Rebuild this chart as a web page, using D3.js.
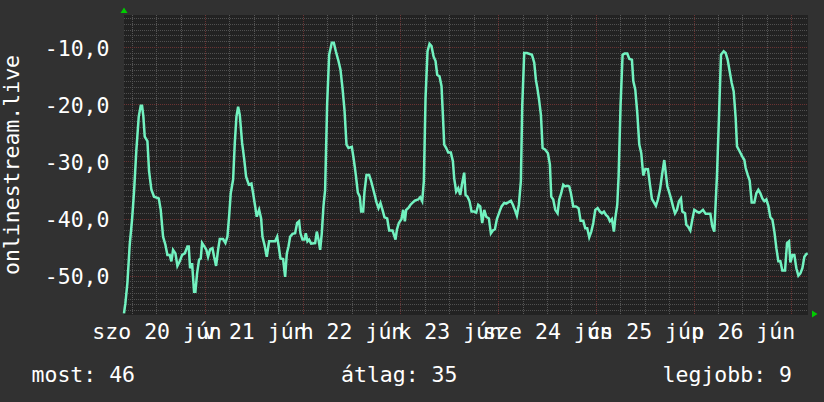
<!DOCTYPE html>
<html>
<head>
<meta charset="utf-8">
<script src="https://cdn.jsdelivr.net/npm/d3@7"></script>
<style>
  html, body { margin: 0; padding: 0; background: #313131; }
  svg { display: block; }
  text { font-family: "DejaVu Sans Mono", monospace; fill: #ffffff; }
</style>
</head>
<body>
<svg id="chart" width="824" height="402"></svg>
<script>
// hours after 2020-06-20 00:00 and the (negative) rank
const hours = [
  4.0, 4.34, 4.83, 5.40, 5.98, 6.47, 7.04, 7.62, 8.11, 8.44, 8.76, 9.09, 9.75, 10.16, 10.73, 11.38,
  12.53, 13.02, 13.60, 14.17, 14.66, 15.23, 15.64, 16.05, 16.63, 17.12, 17.69, 18.26, 18.92, 19.57,
  19.90, 20.23, 20.72, 21.21, 21.54, 21.95, 22.44, 22.85, 23.18, 23.83, 24.24, 24.65, 25.15, 25.72,
  26.13, 26.62, 27.11, 27.52, 28.34, 28.91, 29.40, 29.81, 30.22, 30.80, 31.21, 31.62, 32.03, 32.44,
  33.01, 33.50, 33.99, 34.65, 35.30, 35.71,
  36.61, 37.19, 37.68, 38.01, 38.50, 39.07, 39.64, 41.12, 41.61, 41.94, 42.43, 43.08, 43.58, 43.99,
  44.40, 44.80, 45.38, 46.03, 46.52, 47.01, 47.34, 47.83, 48.33, 48.65, 49.06, 49.47, 49.96, 50.95,
  51.36, 51.77, 52.18, 52.58, 52.99, 53.40, 53.89, 54.39, 55.04, 55.53, 56.03, 56.68, 57.17, 57.66,
  58.15, 58.65, 59.14, 59.96, 60.45, 60.94, 61.43, 61.92, 62.25, 62.74, 63.07, 63.56, 64.21, 64.71,
  65.36, 66.02, 66.51, 67.00, 67.49, 67.98, 68.64, 69.13, 69.95,
  70.69, 71.02, 71.51, 72.16, 72.57, 72.98, 73.31, 73.80, 74.37, 74.95, 75.44, 76.26, 76.75, 77.24,
  77.65, 78.06, 78.55, 79.04, 79.53, 80.03, 80.52, 80.93, 81.50, 81.99, 82.32, 82.65, 83.14, 83.63,
  84.28, 84.78, 85.10, 85.59, 86.09, 86.58, 87.07, 87.56, 87.89, 88.38, 88.87, 89.36, 90.02, 90.51,
  91.00, 91.49, 91.98, 92.48, 92.97, 93.62, 94.11, 94.60, 95.10, 95.59, 96.24, 96.73, 97.39, 97.88,
  98.37, 99.03, 99.52, 100.01, 100.50, 100.99, 101.48, 101.81, 102.30, 102.96,
  104.19, 104.76, 105.17, 105.58, 105.99, 106.40, 106.81, 107.46, 108.12, 108.61, 108.94, 109.43,
  109.92, 110.49, 110.90, 111.39, 111.88, 112.38, 112.87, 113.36, 113.77, 114.34, 115.00, 115.65,
  116.14, 116.80, 117.29, 117.78, 118.27, 118.77, 119.26, 119.75, 120.32, 120.89, 121.39, 121.88,
  122.37, 122.86, 123.35, 123.84, 124.33, 124.66, 125.15, 125.48, 125.97, 126.46, 126.95, 127.61,
  128.10, 128.76, 129.09, 129.58, 130.07, 130.56, 131.05, 131.54, 132.03, 132.69, 133.18, 133.67,
  134.16, 134.65, 135.14, 135.64, 136.13, 136.70,
  137.45, 137.86, 138.35, 138.84, 139.33, 139.82, 140.31, 140.80, 141.13, 141.79, 142.11, 142.61,
  143.10, 143.59, 144.08, 144.73, 145.23, 145.72, 146.21, 146.86, 148.01, 148.50, 148.99, 149.32,
  149.65, 150.14, 150.63, 151.29, 151.78, 152.27, 152.76, 153.25, 153.75, 154.24, 154.56, 155.22,
  155.87, 156.37, 156.69, 157.19, 157.68, 158.17, 158.82, 159.31, 159.81, 160.30, 160.79, 161.28,
  161.77, 162.26, 162.75, 163.25, 163.74, 164.23, 164.72, 165.21, 165.70, 166.36, 166.85, 167.34,
  167.67, 168.16, 168.65, 169.14, 169.64, 170.13, 170.62, 171.11, 171.60, 171.93
];
const values = [
  -56.5, -54.7, -51.2, -44.5, -40.1, -35.2, -27.9, -22.1, -20.2, -20.2, -22.1, -25.6, -26.4, -31.7, -34.9, -36.1,
  -36.4, -38.4, -43.1, -44.5, -46.3, -46.3, -47.4, -45.4, -46.0, -48.2, -47.4, -46.3, -46.0, -44.8,
  -44.8, -48.6, -47.7, -52.7, -52.7, -49.5, -47.1, -46.9, -44.2, -44.9, -45.4, -46.6, -45.3, -45.1,
  -46.6, -48.2, -45.4, -43.5, -43.5, -44.2, -43.1, -39.6, -35.5, -33.1, -26.7, -22.1, -20.4, -21.8,
  -26.7, -29.4, -32.6, -34.0, -33.8, -35.5,
  -39.6, -38.4, -39.9, -43.1, -44.5, -46.6, -43.9, -43.9, -43.1, -44.5, -46.9, -47.0, -50.1, -46.0,
  -44.8, -43.1, -42.6, -42.5, -40.7, -40.4, -42.5, -43.6, -43.6, -42.5, -43.9, -43.6, -44.3, -44.2,
  -42.2, -43.6, -45.4, -42.5, -37.8, -34.9, -20.0, -11.3, -9.2, -9.2, -10.7, -12.4, -13.9, -17.1,
  -20.9, -27.0, -27.6, -27.4, -29.7, -32.3, -35.4, -36.1, -38.7, -38.7, -35.2, -32.3, -32.3, -33.4,
  -35.2, -37.1, -38.1, -37.2, -38.4, -39.7, -39.9, -42.0, -42.0,
  -43.6, -41.9, -40.7, -40.0, -38.4, -40.4, -38.4, -38.1, -37.5, -37.1, -36.8, -36.6, -36.2, -36.9,
  -33.4, -18.9, -10.7, -9.4, -9.8, -11.6, -12.4, -14.8, -15.1, -16.8, -21.8, -27.0, -27.6, -28.4,
  -28.4, -29.9, -32.9, -35.2, -34.6, -35.8, -33.7, -31.9, -35.8, -36.1, -36.9, -38.7, -38.7, -38.9,
  -37.5, -37.8, -40.7, -38.4, -39.6, -39.9, -42.5, -42.0, -41.8, -40.0, -38.7, -37.8, -37.2, -37.3,
  -37.1, -36.8, -37.5, -38.4, -39.4, -37.5, -33.4, -20.3, -11.0, -11.0,
  -11.3, -12.7, -15.7, -17.4, -19.4, -21.8, -27.6, -27.9, -28.5, -30.5, -36.1, -36.6,
  -38.4, -39.0, -36.6, -35.5, -34.0, -34.3, -34.2, -34.3, -35.5, -37.8, -37.8, -38.1,
  -40.3, -40.3, -41.6, -41.6, -43.2, -42.2, -40.7, -38.4, -38.1, -38.7, -39.0, -38.7,
  -39.3, -39.6, -40.4, -40.0, -42.2, -39.9, -37.5, -32.6, -20.0, -11.3, -11.1, -11.1,
  -12.0, -12.2, -15.9, -17.4, -21.5, -27.0, -28.5, -32.4, -31.3, -31.3, -34.0, -36.5,
  -37.1, -37.7, -36.6, -34.9, -32.4, -29.7,
  -34.3, -35.2, -36.4, -37.8, -39.0, -38.4, -36.9, -36.4, -38.7, -39.0, -41.0, -41.4,
  -42.0, -40.1, -38.4, -38.7, -38.9, -38.7, -38.4, -39.1, -39.1, -41.3, -42.2, -37.2,
  -32.3, -22.1, -11.3, -10.7, -11.0, -12.2, -14.2, -16.2, -17.7, -22.4, -27.3, -28.2,
  -29.1, -29.7, -31.1, -32.3, -33.3, -37.1, -37.1, -35.5, -34.9, -35.5, -36.4, -36.9,
  -36.6, -37.7, -39.7, -40.1, -42.2, -45.1, -47.4, -47.4, -49.0, -49.0, -44.2, -43.9,
  -47.6, -46.3, -46.3, -48.6, -49.9, -49.5, -48.6, -46.6, -46.1, -46.0
];

const yTicks = [-50, -40, -30, -20, -10];
const dayLabels = ["szo 20 jún", "v 21 jún", "h 22 jún", "k 23 jún", "sze 24 jún", "cs 25 jún", "p 26 jún"];
const legendItems = [
  { label: "most", value: "46" },
  { label: "átlag", value: "35" },
  { label: "legjobb", value: "9" },
];
const title = "onlinestream.live";

const width = 824;
const height = 402;
const plot = { left: 124, right: 808, top: 15, bottom: 315 };
const fontSize = 21.5;

const base = Date.UTC(2020, 5, 20);
const hourMs = 3600 * 1000;
const data = hours.map((h, i) => ({ t: new Date(base + h * hourMs), v: values[i] }));

const svg = d3.select("#chart");

svg.append("rect")
  .attr("width", width)
  .attr("height", height)
  .attr("fill", "#313131");

svg.append("rect")
  .attr("x", plot.left)
  .attr("y", plot.top)
  .attr("width", plot.right - plot.left)
  .attr("height", plot.bottom - plot.top)
  .attr("fill", "#222222");

const xScale = d3.scaleUtc()
  .domain([new Date(base + 4 * hourMs), new Date(base + 172 * hourMs)])
  .range([plot.left, plot.right]);

const yScale = d3.scaleLinear()
  .domain([-56.77, -4.36])
  .range([plot.bottom, plot.top]);

const gridG = svg.append("g").attr("shape-rendering", "crispEdges");
const snap = (p) => Math.floor(p) + 0.5;

// minor grid: every rank unit, every 6 hours
const minorY = d3.range(-56, -4).filter((v) => v % 10 !== 0);
gridG.selectAll("line.minor-y")
  .data(minorY)
  .join("line")
  .attr("class", "minor-y")
  .attr("x1", plot.left)
  .attr("x2", plot.right)
  .attr("y1", (d) => snap(yScale(d)))
  .attr("y2", (d) => snap(yScale(d)))
  .attr("stroke", "#505050")
  .attr("stroke-dasharray", "1,1");

const minorX = d3.utcHour.every(6).range(...xScale.domain()).filter((d) => d.getUTCHours() !== 0);
gridG.selectAll("line.minor-x")
  .data(minorX)
  .join("line")
  .attr("class", "minor-x")
  .attr("x1", (d) => snap(xScale(d)))
  .attr("x2", (d) => snap(xScale(d)))
  .attr("y1", plot.top)
  .attr("y2", plot.bottom)
  .attr("stroke", "#555555")
  .attr("stroke-dasharray", "1,1");

gridG.selectAll("line.major-y")
  .data(yTicks)
  .join("line")
  .attr("class", "major-y")
  .attr("x1", plot.left)
  .attr("x2", plot.right)
  .attr("y1", (d) => snap(yScale(d)))
  .attr("y2", (d) => snap(yScale(d)))
  .attr("stroke", "#6a3333")
  .attr("stroke-dasharray", "1,1");

const days = d3.utcDay.range(...xScale.domain());
gridG.selectAll("line.major-x")
  .data(days)
  .join("line")
  .attr("class", "major-x")
  .attr("x1", (d) => snap(xScale(d)))
  .attr("x2", (d) => snap(xScale(d)))
  .attr("y1", plot.top)
  .attr("y2", plot.bottom)
  .attr("stroke", "#6a3333")
  .attr("stroke-dasharray", "1,1");

const line = d3.line()
  .x((d) => xScale(d.t))
  .y((d) => yScale(d.v));

svg.append("path")
  .datum(data)
  .attr("d", line)
  .attr("fill", "none")
  .attr("stroke", "#72f2c0")
  .attr("stroke-width", 2.5)
  .attr("stroke-linejoin", "miter");

// axis arrows
svg.append("path")
  .attr("d", `M${plot.left - 3.5},13 L${plot.left + 3.5},13 L${plot.left},7.5 Z`)
  .attr("fill", "#00cc00");
svg.append("path")
  .attr("d", `M812,310.5 L812,317.5 L817.5,314 Z`)
  .attr("fill", "#00cc00");

// y axis labels
const fmt = (d) => (d < 0 ? "-" : "") + Math.abs(d).toFixed(1).replace(".", ",");
const yAxis = svg.append("g")
  .attr("transform", `translate(${plot.left},0)`)
  .call(d3.axisLeft(yScale).tickValues(yTicks).tickFormat(fmt).tickSize(0).tickPadding(14.5));
yAxis.select(".domain").remove();
yAxis.selectAll("text")
  .attr("fill", "#ffffff")
  .attr("font-family", "DejaVu Sans Mono, monospace")
  .attr("font-size", fontSize)
  .attr("dy", "0.36em");

// x axis labels, centred on noon of each day
const noons = d3.range(dayLabels.length).map((i) => new Date(base + (i * 24 + 12) * hourMs));
const xAxis = svg.append("g")
  .attr("transform", `translate(0,${plot.bottom})`)
  .call(d3.axisBottom(xScale).tickValues(noons).tickFormat((d, i) => dayLabels[i]).tickSize(0).tickPadding(0));
xAxis.select(".domain").remove();
xAxis.selectAll("text")
  .attr("fill", "#ffffff")
  .attr("font-family", "DejaVu Sans Mono, monospace")
  .attr("font-size", fontSize)
  .attr("dy", null)
  .attr("y", 23.5);

// vertical title
svg.append("text")
  .attr("transform", `translate(19,${(plot.top + plot.bottom) / 2}) rotate(-90)`)
  .attr("text-anchor", "middle")
  .attr("font-size", fontSize)
  .text(title);

// legend line
const legendX = [{ x: 31.5, anchor: "start" }, { x: 341, anchor: "start" }, { x: 792, anchor: "end" }];
svg.selectAll("text.legend")
  .data(legendItems)
  .join("text")
  .attr("class", "legend")
  .attr("x", (d, i) => legendX[i].x)
  .attr("y", 381.5)
  .attr("text-anchor", (d, i) => legendX[i].anchor)
  .attr("font-size", fontSize)
  .text((d) => `${d.label}: ${d.value}`);
</script>
</body>
</html>
